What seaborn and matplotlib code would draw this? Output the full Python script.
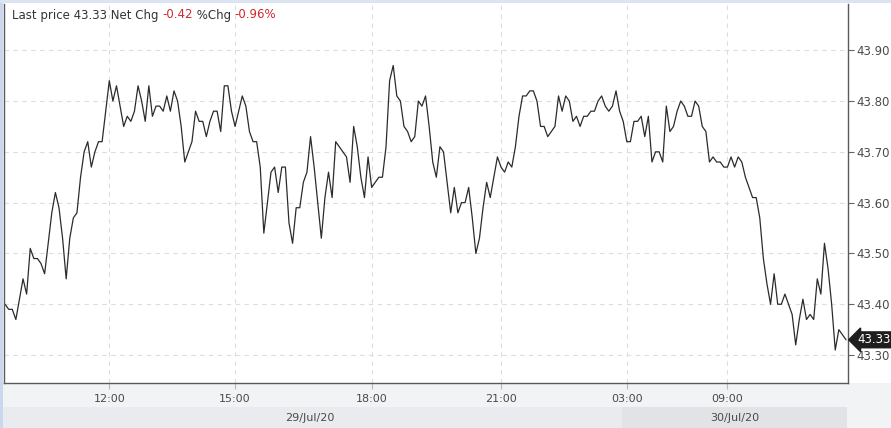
import numpy as np
import pandas as pd
import matplotlib
matplotlib.use("Agg")
import matplotlib.pyplot as plt
import matplotlib.transforms as mtransforms
from matplotlib.patches import Rectangle
import seaborn as sns

# 5-minute closes, 29/Jul/20 morning to 30/Jul/20
prices = [
    43.40, 43.39, 43.39, 43.37, 43.41, 43.45, 43.42, 43.51, 43.49, 43.49,
    43.48, 43.46, 43.52, 43.58, 43.62, 43.59, 43.53, 43.45, 43.53, 43.57,
    43.58, 43.65, 43.70, 43.72, 43.67, 43.70, 43.72, 43.72, 43.78, 43.84,
    43.80, 43.83, 43.79, 43.75, 43.77, 43.76, 43.78, 43.83, 43.80, 43.76,
    43.83, 43.77, 43.79, 43.79, 43.78, 43.81, 43.78, 43.82, 43.80, 43.75,
    43.68, 43.70, 43.72, 43.78, 43.76, 43.76, 43.73, 43.76, 43.78, 43.78,
    43.74, 43.83, 43.83, 43.78, 43.75, 43.78, 43.81, 43.79, 43.74, 43.72,
    43.72, 43.67, 43.54, 43.60, 43.66, 43.67, 43.62, 43.67, 43.67, 43.56,
    43.52, 43.59, 43.59, 43.64, 43.66, 43.73, 43.67, 43.60, 43.53, 43.61,
    43.66, 43.61, 43.72, 43.71, 43.70, 43.69, 43.64, 43.75, 43.71, 43.65,
    43.61, 43.69, 43.63, 43.64, 43.65, 43.65, 43.71, 43.84, 43.87, 43.81,
    43.80, 43.75, 43.74, 43.72, 43.73, 43.80, 43.79, 43.81, 43.75, 43.68,
    43.65, 43.71, 43.70, 43.64, 43.58, 43.63, 43.58, 43.60, 43.60, 43.63,
    43.57, 43.50, 43.53, 43.59, 43.64, 43.61, 43.65, 43.69, 43.67, 43.66,
    43.68, 43.67, 43.71, 43.77, 43.81, 43.81, 43.82, 43.82, 43.80, 43.75,
    43.75, 43.73, 43.74, 43.75, 43.81, 43.78, 43.81, 43.80, 43.76, 43.77,
    43.75, 43.77, 43.77, 43.78, 43.78, 43.80, 43.81, 43.79, 43.78, 43.79,
    43.82, 43.78, 43.76, 43.72, 43.72, 43.76, 43.76, 43.77, 43.73, 43.77,
    43.68, 43.70, 43.70, 43.68, 43.79, 43.74, 43.75, 43.78, 43.80, 43.79,
    43.77, 43.77, 43.80, 43.79, 43.75, 43.74, 43.68, 43.69, 43.68, 43.68,
    43.67, 43.67, 43.69, 43.67, 43.69, 43.68, 43.65, 43.63, 43.61, 43.61,
    43.57, 43.49, 43.44, 43.40, 43.46, 43.40, 43.40, 43.42, 43.40, 43.38,
    43.32, 43.37, 43.41, 43.37, 43.38, 43.37, 43.45, 43.42, 43.52, 43.47,
    43.40, 43.31, 43.35, 43.34, 43.33,
]

# bar index where each time label sits
time_ticks = [29, 64, 102, 138, 173, 201]
time_labels = ["12:00", "15:00", "18:00", "21:00", "03:00", "09:00"]
price_ticks = [43.30, 43.40, 43.50, 43.60, 43.70, 43.80, 43.90]

last_price = 43.33
net_chg = "-0.42"
pct_chg = "-0.96%"
dates = ["29/Jul/20", "30/Jul/20"]

df = pd.DataFrame({"bar": np.arange(len(prices)), "price": prices})

sns.set_theme(style="white")
plt.rcParams["font.family"] = ["DejaVu Sans"]

fig = plt.figure(figsize=(8.91, 4.28), dpi=100, facecolor="white")
W, H = 891, 428

# bands of the frame, drawn behind the axes
def band(x0, y0, x1, y1, color):
    fig.patches.append(Rectangle((x0 / W, 1 - y1 / H), (x1 - x0) / W, (y1 - y0) / H,
                                 transform=fig.transFigure, facecolor=color,
                                 edgecolor="none", zorder=-5))

band(0, 383, 891, 428, "#f2f3f5")
band(0, 407, 622, 428, "#e9ebee")
band(622, 407, 847, 428, "#e1e3e6")
band(0, 0, 3, 428, "#c9d8ec")
band(0, 0, 891, 3, "#dbe5f1")

ax = fig.add_axes([4 / W, 45 / H, 844 / W, 379 / H])
sns.lineplot(data=df, x="bar", y="price", ax=ax, color="#2b2b2b", linewidth=0.9)

ax.set_xlim(-0.3, len(prices) - 0.45)
ax.set_ylim(43.245, 43.991)
ax.set_xlabel("")
ax.set_ylabel("")

ax.yaxis.tick_right()
ax.set_yticks(price_ticks)
ax.set_yticklabels([f"{p:.2f}" for p in price_ticks])
ax.set_xticks(time_ticks)
ax.set_xticklabels(time_labels)
ax.tick_params(axis="y", which="both", right=True, length=4, width=0.8, color="#666666",
               labelsize=8.5, labelcolor="#4a4a4a", pad=2)
ax.tick_params(axis="x", which="both", bottom=True, labelbottom=True, length=4, width=0.8,
               color="#bbbbbb", labelsize=8, labelcolor="#4a4a4a", pad=4)

ax.grid(True, color="#dddddd", linestyle=(0, (4, 4)), linewidth=0.8)
for side in ["left", "bottom", "right"]:
    ax.spines[side].set_color("#5a5a5a")
    ax.spines[side].set_linewidth(1.0)
ax.spines["top"].set_visible(False)

# last price flag on the right axis
trans = mtransforms.blended_transform_factory(ax.transAxes, ax.transData)
ax.text(1.0 + 9 / 844, last_price, f"{last_price:.2f}", transform=trans, ha="left", va="center",
        fontsize=8.5, color="white", clip_on=False,
        bbox=dict(boxstyle="larrow,pad=0.12", fc="#1e1e1e", ec="#1e1e1e"))

# header line
t1 = ax.text(8 / 844, 1 - 11 / 379, f"Last price {last_price:.2f} Net Chg ", transform=ax.transAxes,
             ha="left", va="center", fontsize=8.5, color="#333333")
t2 = ax.annotate(net_chg, xy=(1, 0), xycoords=t1, va="bottom", fontsize=8.5, color="#d0282e")
t3 = ax.annotate(" %Chg ", xy=(1, 0), xycoords=t2, va="bottom", fontsize=8.5, color="#333333")
ax.annotate(pct_chg, xy=(1, 0), xycoords=t3, va="bottom", fontsize=8.5, color="#d0282e")

# date labels under the time axis
fig.text(310 / W, 1 - 418 / H, dates[0], ha="center", va="center", fontsize=8, color="#4a4a4a")
fig.text(735 / W, 1 - 418 / H, dates[1], ha="center", va="center", fontsize=8, color="#4a4a4a")

fig.savefig("out.png", dpi=100, facecolor=fig.get_facecolor())
